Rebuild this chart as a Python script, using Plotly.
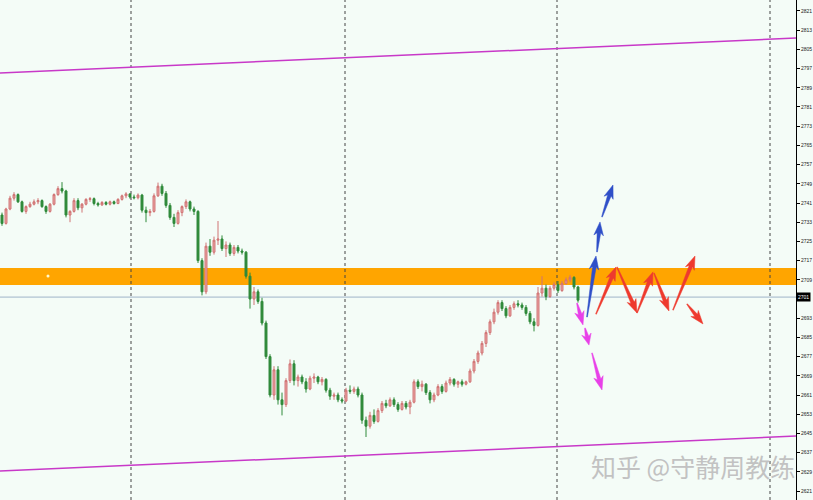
import math
import plotly.graph_objects as go

# ---------------- data ----------------
opens = [2736.0, 2732.5, 2738.5, 2743, 2744.5, 2741.5, 2737.5, 2739.5, 2740.5, 2741.5,
         2742, 2739.5, 2737.5, 2740.5, 2744.5, 2747, 2746, 2736, 2737.5, 2742,
         2739, 2740.5, 2742.5, 2742.8, 2740.8, 2740.2, 2741.2, 2740.5, 2741.5, 2740.8,
         2742.5, 2744, 2744.8, 2743.5, 2743.2, 2744.3, 2738, 2737, 2737.5, 2744,
         2748, 2745, 2740, 2735, 2732.5, 2737, 2739.5, 2741.5, 2738.5, 2737.5,
         2717, 2704, 2723, 2720.5, 2725.5, 2726, 2722, 2723.5, 2720, 2722.5,
         2721, 2720.5, 2710.5, 2701, 2704, 2700, 2691, 2677, 2661, 2671.5,
         2659, 2657, 2667, 2674, 2667, 2668.5, 2666.5, 2663.5, 2668, 2668.5,
         2666.5, 2667.5, 2663, 2660.5, 2661, 2659, 2658.5, 2663, 2662.5, 2663.5,
         2661, 2650.5, 2648, 2652.5, 2650, 2654.5, 2657.5, 2656.5, 2659, 2657,
         2655, 2657.5, 2656, 2658, 2666.5, 2664.5, 2665.5, 2662, 2659, 2661,
         2664.5, 2662.5, 2666, 2667.5, 2665.5, 2666.5, 2665.5, 2666.5, 2671, 2675,
         2678.5, 2682.5, 2687, 2691.5, 2695.5, 2699.5, 2697, 2694, 2697.5, 2699,
         2698.5, 2697.5, 2695, 2691.5, 2690, 2703.5, 2705.5, 2702, 2705.5, 2707,
         2704.5, 2707.5, 2709, 2710, 2706]
closes = [2732.5, 2738.5, 2743, 2744.5, 2741.5, 2737.5, 2739.5, 2740.5, 2741.5, 2742,
          2739.5, 2737.5, 2740.5, 2744.5, 2747, 2746, 2736, 2737.5, 2742, 2739,
          2740.5, 2742.5, 2742.8, 2740.8, 2740.2, 2741.2, 2740.5, 2741.5, 2740.8, 2742.5,
          2744, 2744.8, 2743.5, 2743.2, 2744.3, 2738, 2737, 2737.5, 2744, 2748,
          2745, 2740, 2735, 2732.5, 2737, 2739.5, 2741.5, 2738.5, 2737.5, 2717,
          2704, 2723, 2720.5, 2725.5, 2726, 2722, 2723.5, 2720, 2722.5, 2721,
          2720.5, 2710.5, 2701, 2704, 2700, 2691, 2677, 2661, 2671.5, 2659,
          2657, 2667, 2674, 2667, 2668.5, 2666.5, 2663.5, 2668, 2668.5, 2666.5,
          2667.5, 2663, 2660.5, 2661, 2659, 2658.5, 2663, 2662.5, 2663.5, 2661,
          2650.5, 2648, 2652.5, 2650, 2654.5, 2657.5, 2656.5, 2659, 2657, 2655,
          2657.5, 2656, 2658, 2666.5, 2664.5, 2665.5, 2662, 2659, 2661, 2664.5,
          2662.5, 2666, 2667.5, 2665.5, 2666.5, 2665.5, 2666.5, 2671, 2675, 2678.5,
          2682.5, 2687, 2691.5, 2695.5, 2699.5, 2697, 2694, 2697.5, 2699, 2698.5,
          2697.5, 2695, 2691.5, 2690, 2703.5, 2705.5, 2702, 2705.5, 2707, 2704.5,
          2707.5, 2709, 2710, 2706, 2700.5]
highs = [2737, 2739, 2744, 2745.5, 2745, 2742, 2740, 2741.5, 2742.5, 2743,
         2742.5, 2740, 2741, 2745, 2748, 2749.7, 2746.5, 2738, 2743, 2743,
         2741, 2743, 2743.5, 2743.3, 2741.5, 2741.8, 2741.8, 2742, 2742, 2743,
         2744.5, 2745.5, 2745, 2744.5, 2745, 2744.8, 2739.5, 2738.5, 2745, 2749.5,
         2749, 2746, 2741, 2736.5, 2738, 2740, 2742.5, 2742, 2739.5, 2738,
         2718, 2724.5, 2726, 2727, 2733.5, 2727.5, 2725, 2724.5, 2723.5, 2723.5,
         2722, 2721, 2712, 2706, 2705, 2701.5, 2692, 2678, 2673, 2673,
         2662, 2668, 2675.8, 2675.5, 2669.5, 2669.5, 2668, 2669, 2670, 2669,
         2668.5, 2668, 2664, 2662, 2662, 2660, 2664, 2665, 2664.5, 2664.5,
         2662, 2652, 2654, 2655, 2655.5, 2658.5, 2659, 2660, 2660, 2658,
         2658.5, 2658.5, 2659, 2667.5, 2667.5, 2667, 2666, 2663, 2662, 2665.5,
         2665.5, 2667, 2668.5, 2668, 2667, 2667.5, 2667, 2672, 2676, 2679.5,
         2683.5, 2688, 2692.5, 2697, 2700.5, 2700.5, 2698, 2698.5, 2700, 2700.5,
         2699.5, 2698.5, 2696, 2693, 2706, 2710.5, 2707, 2706.5, 2708, 2708.5,
         2708.5, 2710, 2711, 2710.5, 2706.5]
lows = [2731.5, 2732, 2738, 2742, 2741, 2737, 2736.5, 2739, 2740, 2740.5,
        2739, 2736.5, 2737, 2740, 2744, 2745, 2735, 2733, 2737, 2738,
        2737, 2740, 2741.5, 2740, 2739.5, 2739.8, 2740, 2740, 2740.3, 2740.5,
        2742, 2743, 2742.8, 2742.5, 2742.5, 2737, 2733, 2735.5, 2737, 2743.5,
        2744, 2739, 2734, 2731, 2732, 2735.5, 2738.5, 2737.5, 2736, 2716,
        2702.5, 2703, 2719, 2719.5, 2723.5, 2721, 2718.5, 2719, 2719, 2720,
        2719.5, 2709.5, 2697, 2698.5, 2699, 2690, 2676, 2660, 2659, 2657,
        2652.5, 2656, 2666, 2665, 2664.5, 2665.5, 2662, 2663, 2666, 2665.5,
        2665, 2662, 2659, 2659, 2658, 2657.5, 2658, 2661.5, 2661.5, 2660,
        2649, 2643.5, 2647, 2649, 2649.5, 2653.5, 2655.5, 2656, 2656, 2654,
        2654.5, 2655, 2653, 2657.5, 2663.5, 2662.5, 2661, 2657.5, 2658, 2660.5,
        2661.5, 2662, 2665, 2664.5, 2664, 2664.5, 2665, 2666, 2670, 2674,
        2677.5, 2681, 2686, 2690.5, 2694.5, 2696, 2693, 2693.5, 2696.5, 2697.5,
        2696.5, 2694, 2690.5, 2687.5, 2689.5, 2702, 2700.5, 2701.5, 2704.5, 2703.5,
        2704, 2707, 2708, 2705, 2699.5]
bar_index = list(range(len(closes)))

tick_vals = [2621, 2629, 2637, 2645, 2653, 2661, 2669, 2677, 2685, 2693, 2701, 2709,
             2717, 2725, 2733, 2741, 2749, 2757, 2765, 2773, 2781, 2789, 2797, 2805,
             2813, 2821]
# the 2701 tick is covered by the current-price label, which shows the text instead
tick_text = ["" if v == 2701 else str(v) for v in tick_vals]

current_price = 2701.8
current_price_label = "2701"
zone_low, zone_high = 2706.8, 2713.9
separator_x = [32.25, 85.75, 138.75, 192.0]
channel_top = ([-0.5, 198.5], [2795.2, 2809.7])
channel_bottom = ([-0.5, 198.5], [2629.3, 2643.9])

# arrows: (tail_x, tail_price, head_x, head_price)
arrows_blue = [(146.25, 2693.5, 148.5, 2718.9), (148.75, 2720.6, 149.5, 2733.1),
               (150.0, 2735.2, 152.75, 2748.5)]
arrows_magenta = [(143.75, 2699.3, 145.25, 2690.2), (145.75, 2688.9, 146.75, 2681.8),
                  (147.5, 2678.5, 150.0, 2663.1)]
arrows_red = [(148.5, 2694.7, 153.5, 2714.3), (153.75, 2714.3, 158.75, 2695.2),
              (158.75, 2695.2, 162.75, 2712.3), (163.0, 2711.8, 166.75, 2696.0),
              (167.75, 2696.4, 173.25, 2718.9), (171.25, 2698.9, 175.25, 2690.6)]

# ---------------- layout geometry ----------------
W, H = 813, 500
plot_w = 796
x_range = [-0.5, 198.5]
y_range = [2617.25, 2825.58]
sx = plot_w / (x_range[1] - x_range[0])
sy = H / (y_range[1] - y_range[0])


def to_px(x, v):
    return (x - x_range[0]) * sx, (y_range[1] - v) * sy


def to_data(px, py):
    return px / sx + x_range[0], y_range[1] - py / sy


def arrow_polygon(a):
    tx, ty = to_px(a[0], a[1])
    hx, hy = to_px(a[2], a[3])
    dx, dy = hx - tx, hy - ty
    L = math.hypot(dx, dy)
    ux, uy = dx / L, dy / L
    nx, ny = -uy, ux
    hl = min(11.0, 0.5 * L)
    bx, by = hx - ux * hl, hy - uy * hl
    pts = [
        (tx + nx * 0.4, ty + ny * 0.4),
        (bx + nx * 1.8, by + ny * 1.8),
        (bx - ux * 2.5 + nx * 4.8, by - uy * 2.5 + ny * 4.8),
        (hx, hy),
        (bx - ux * 2.5 - nx * 4.8, by - uy * 2.5 - ny * 4.8),
        (bx - nx * 1.8, by - ny * 1.8),
        (tx - nx * 0.4, ty - ny * 0.4),
        (tx + nx * 0.4, ty + ny * 0.4),
    ]
    xs, ys = [], []
    for p in pts:
        X, Y = to_data(*p)
        xs.append(X)
        ys.append(Y)
    return xs, ys


fig = go.Figure()

# zone
fig.add_shape(type="rect", xref="paper", x0=0, x1=1, yref="y", y0=zone_low, y1=zone_high,
              fillcolor="#ffa500", line_width=0, layer="below")
# current price line
fig.add_shape(type="line", xref="paper", x0=0, x1=1, yref="y", y0=current_price, y1=current_price,
              line=dict(color="#9fb3c8", width=1), layer="below")
# vertical separators
for sxv in separator_x:
    fig.add_shape(type="line", xref="x", x0=sxv, x1=sxv, yref="paper", y0=0, y1=1,
                  line=dict(color="#444444", width=1, dash="dot"), layer="below")

# channel lines
for cx, cy in (channel_top, channel_bottom):
    fig.add_trace(go.Scatter(x=cx, y=cy, mode="lines", line=dict(color="#c838c8", width=1.5),
                             hoverinfo="skip", showlegend=False))

fig.add_trace(go.Candlestick(
    x=bar_index, open=opens, high=highs, low=lows, close=closes,
    increasing=dict(line=dict(color="#d07474", width=1), fillcolor="#eba6a6"),
    decreasing=dict(line=dict(color="#2f8a3a", width=1), fillcolor="#2f8a3a"),
    whiskerwidth=0, showlegend=False))

# small marker in zone
fig.add_trace(go.Scatter(x=[11.5], y=[2710.6], mode="markers",
                         marker=dict(color="#fffbd0", size=3), showlegend=False, hoverinfo="skip"))

for group, col in ((arrows_blue, "#2f4fc8"), (arrows_magenta, "#e840e8"), (arrows_red, "#ee3a2e")):
    for a in group:
        xs, ys = arrow_polygon(a)
        fig.add_trace(go.Scatter(x=xs, y=ys, mode="lines", fill="toself", fillcolor=col,
                                 line=dict(color=col, width=0.5), hoverinfo="skip",
                                 showlegend=False))

# price label
fig.add_annotation(xref="paper", x=1.0, xanchor="left", yref="y", y=current_price,
                   text=current_price_label, showarrow=False, bgcolor="#000000",
                   font=dict(color="#ffffff", size=5, family="Liberation Sans"),
                   borderpad=1, xshift=0)

# watermark
fig.add_annotation(xref="paper", yref="paper", x=693 / plot_w, y=1 - 466 / H,
                   xanchor="center", yanchor="middle",
                   text="知乎 @守静周教练", showarrow=False,
                   font=dict(family="Noto Sans CJK SC", size=25, color="#c2c2c2"))

fig.update_layout(
    width=W, height=H,
    margin=dict(l=0, r=W - plot_w, t=0, b=0),
    paper_bgcolor="#f4fcf7", plot_bgcolor="#f4fcf7",
    xaxis=dict(range=x_range, visible=False, rangeslider=dict(visible=False),
               showgrid=False, zeroline=False),
    yaxis=dict(range=y_range, side="right", tickvals=tick_vals, ticktext=tick_text,
               showgrid=False, zeroline=False, showline=True, linecolor="#000000",
               linewidth=1, ticks="outside", ticklen=3, tickcolor="#000000",
               tickfont=dict(size=5, color="#222222", family="Liberation Sans"),
               automargin=False, fixedrange=True),
    showlegend=False,
)

fig.write_html("out.html", config={"displayModeBar": False},
               post_script="document.body.style.margin='0px';")
